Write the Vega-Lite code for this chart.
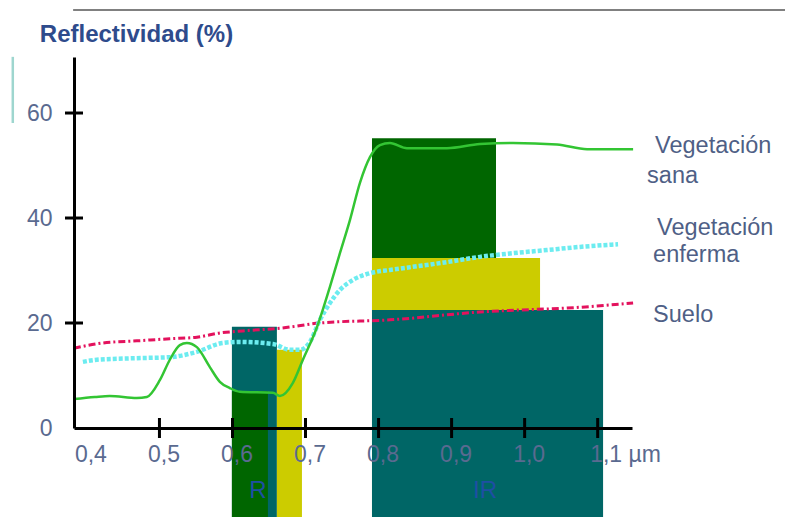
{
  "$schema": "https://vega.github.io/schema/vega-lite/v6.json",
  "autosize": {"type": "none"},
  "width": 558,
  "height": 371,
  "padding": {"left": 74, "top": 57, "right": 153, "bottom": 89},
  "background": "white",
  "config": {"view": {"stroke": null}, "font": "Liberation Sans"},
  "datasets": {
    "bandas": [
      {"banda": "R", "cubierta": "Suelo", "x": 0.5992, "x2": 0.6608, "y": 19.3, "y2": -17.5},
      {"banda": "R", "cubierta": "Sana", "x": 0.5992, "x2": 0.6485, "y": 7.0, "y2": -17.5},
      {"banda": "R", "cubierta": "Enferma", "x": 0.6608, "x2": 0.6951, "y": 14.9, "y2": -17.5},
      {"banda": "IR", "cubierta": "Sana", "x": 0.791, "x2": 0.9608, "y": 55.2, "y2": -17.5},
      {"banda": "IR", "cubierta": "Enferma", "x": 0.791, "x2": 1.0211, "y": 32.4, "y2": -17.5},
      {"banda": "IR", "cubierta": "Suelo", "x": 0.791, "x2": 1.1074, "y": 22.5, "y2": -17.5}
    ],
    "curvas": [
      {"serie": "Sana", "x": 0.3828, "y": 5.5},
      {"serie": "Sana", "x": 0.4115, "y": 5.9},
      {"serie": "Sana", "x": 0.4319, "y": 6.1},
      {"serie": "Sana", "x": 0.469, "y": 5.7},
      {"serie": "Sana", "x": 0.4827, "y": 5.9},
      {"serie": "Sana", "x": 0.5005, "y": 9.1},
      {"serie": "Sana", "x": 0.5142, "y": 13.0},
      {"serie": "Sana", "x": 0.5279, "y": 15.8},
      {"serie": "Sana", "x": 0.5375, "y": 16.2},
      {"serie": "Sana", "x": 0.5512, "y": 15.4},
      {"serie": "Sana", "x": 0.569, "y": 11.6},
      {"serie": "Sana", "x": 0.5827, "y": 8.8},
      {"serie": "Sana", "x": 0.5964, "y": 7.6},
      {"serie": "Sana", "x": 0.6101, "y": 6.9},
      {"serie": "Sana", "x": 0.6553, "y": 6.7},
      {"serie": "Sana", "x": 0.6649, "y": 6.1},
      {"serie": "Sana", "x": 0.6827, "y": 8.6},
      {"serie": "Sana", "x": 0.6964, "y": 13.0},
      {"serie": "Sana", "x": 0.7156, "y": 19.2},
      {"serie": "Sana", "x": 0.7334, "y": 26.9},
      {"serie": "Sana", "x": 0.7471, "y": 33.3},
      {"serie": "Sana", "x": 0.7608, "y": 39.6},
      {"serie": "Sana", "x": 0.7745, "y": 46.7},
      {"serie": "Sana", "x": 0.7882, "y": 51.6},
      {"serie": "Sana", "x": 0.8019, "y": 53.9},
      {"serie": "Sana", "x": 0.8156, "y": 54.3},
      {"serie": "Sana", "x": 0.8389, "y": 53.3},
      {"serie": "Sana", "x": 0.8937, "y": 53.3},
      {"serie": "Sana", "x": 0.9389, "y": 54.1},
      {"serie": "Sana", "x": 0.9841, "y": 54.3},
      {"serie": "Sana", "x": 1.0444, "y": 54.0},
      {"serie": "Sana", "x": 1.0855, "y": 53.1},
      {"serie": "Sana", "x": 1.1485, "y": 53.1},
      {"serie": "Enferma", "x": 0.3952, "y": 12.6},
      {"serie": "Enferma", "x": 0.4143, "y": 13.0},
      {"serie": "Enferma", "x": 0.469, "y": 13.3},
      {"serie": "Enferma", "x": 0.5142, "y": 13.5},
      {"serie": "Enferma", "x": 0.5512, "y": 14.5},
      {"serie": "Enferma", "x": 0.5868, "y": 16.2},
      {"serie": "Enferma", "x": 0.6101, "y": 16.4},
      {"serie": "Enferma", "x": 0.6553, "y": 16.0},
      {"serie": "Enferma", "x": 0.6786, "y": 14.9},
      {"serie": "Enferma", "x": 0.6923, "y": 14.9},
      {"serie": "Enferma", "x": 0.706, "y": 16.4},
      {"serie": "Enferma", "x": 0.7197, "y": 20.6},
      {"serie": "Enferma", "x": 0.7334, "y": 23.8},
      {"serie": "Enferma", "x": 0.7471, "y": 26.3},
      {"serie": "Enferma", "x": 0.7649, "y": 28.2},
      {"serie": "Enferma", "x": 0.7882, "y": 29.5},
      {"serie": "Enferma", "x": 0.8156, "y": 30.1},
      {"serie": "Enferma", "x": 0.8471, "y": 30.7},
      {"serie": "Enferma", "x": 0.8937, "y": 31.6},
      {"serie": "Enferma", "x": 0.9389, "y": 32.6},
      {"serie": "Enferma", "x": 0.9841, "y": 33.3},
      {"serie": "Enferma", "x": 1.0307, "y": 33.9},
      {"serie": "Enferma", "x": 1.0759, "y": 34.5},
      {"serie": "Enferma", "x": 1.1279, "y": 35.0},
      {"serie": "Suelo", "x": 0.3828, "y": 15.2},
      {"serie": "Suelo", "x": 0.4225, "y": 16.2},
      {"serie": "Suelo", "x": 0.469, "y": 16.6},
      {"serie": "Suelo", "x": 0.5142, "y": 17.0},
      {"serie": "Suelo", "x": 0.5512, "y": 17.3},
      {"serie": "Suelo", "x": 0.5827, "y": 18.1},
      {"serie": "Suelo", "x": 0.6142, "y": 18.5},
      {"serie": "Suelo", "x": 0.6649, "y": 19.0},
      {"serie": "Suelo", "x": 0.7197, "y": 20.0},
      {"serie": "Suelo", "x": 0.8156, "y": 20.6},
      {"serie": "Suelo", "x": 0.9389, "y": 22.1},
      {"serie": "Suelo", "x": 1.0759, "y": 23.0},
      {"serie": "Suelo", "x": 1.1485, "y": 23.8}
    ],
    "textos": [
      {"tipo": "titulo", "texto": "Reflectividad (%)", "x": 0.3362, "y": 73.5},
      {"tipo": "nota", "texto": "Vegetación", "x": 1.1786, "y": 52.4},
      {"tipo": "nota", "texto": "sana", "x": 1.1677, "y": 46.7},
      {"tipo": "nota", "texto": "Vegetación", "x": 1.1814, "y": 36.8},
      {"tipo": "nota", "texto": "enferma", "x": 1.1759, "y": 31.6},
      {"tipo": "nota", "texto": "Suelo", "x": 1.1759, "y": 20.2},
      {"tipo": "banda", "texto": "R", "x": 0.6348, "y": -13.4},
      {"tipo": "banda", "texto": "IR", "x": 0.9458, "y": -13.4}
    ],
    "hlinea": [{"x": 0.3818, "x2": 1.357, "y": 79.6}],
    "vlinea": [{"x": 0.2992, "y": 70.7, "y2": 58.1}],
    "marcasx": [
      {"pos": 0.5}, {"pos": 0.6}, {"pos": 0.7}, {"pos": 0.8}, {"pos": 0.9}, {"pos": 1.0}, {"pos": 1.1}
    ],
    "marcasy": [
      {"pos": 20}, {"pos": 40}, {"pos": 60}
    ]
  },
  "layer": [
    {
      "data": {"name": "hlinea"},
      "mark": {"type": "rule", "color": "#808080", "strokeWidth": 2},
      "encoding": {
        "x": {"field": "x", "type": "quantitative"},
        "x2": {"field": "x2"},
        "y": {"field": "y", "type": "quantitative"}
      }
    },
    {
      "data": {"name": "vlinea"},
      "mark": {"type": "rule", "color": "#9ed6cf", "strokeWidth": 2.5},
      "encoding": {
        "x": {"field": "x", "type": "quantitative"},
        "y": {"field": "y", "type": "quantitative"},
        "y2": {"field": "y2"}
      }
    },
    {
      "data": {"name": "bandas"},
      "mark": {"type": "rect", "clip": false},
      "encoding": {
        "x": {"field": "x", "type": "quantitative",
          "scale": {"domain": [0.383, 1.147], "nice": false, "zero": false},
          "axis": {
            "values": [0.4, 0.5, 0.6, 0.7, 0.8, 0.9, 1.0, 1.1],
            "title": null, "grid": false, "zindex": 1, "ticks": false,
            "domainColor": "#000000", "domainWidth": 3,
            "labelPadding": 15, "labelFontSize": 23, "labelColor": "#5a6a90",
            "labelFont": "Liberation Sans", "labelFlush": false, "labelOverlap": false,
            "labelAlign": {"condition": {"test": "datum.value > 1.05", "value": "left"}, "value": "center"},
            "labelOffset": {"condition": {"test": "datum.value > 1.05", "value": -8}, "value": 4},
            "labelExpr": "abs(datum.value - 1.1) < 0.01 ? '1,1 µm' : replace(format(datum.value, '.1f'), '.', ',')"
          }},
        "x2": {"field": "x2"},
        "y": {"field": "y", "type": "quantitative",
          "scale": {"domain": [0, 70.67], "nice": false, "zero": false},
          "axis": {
            "values": [0, 20, 40, 60],
            "title": null, "grid": false, "zindex": 1, "ticks": false,
            "domainColor": "#000000", "domainWidth": 3,
            "labelPadding": 22, "labelFontSize": 23, "labelColor": "#5a6a90",
            "labelFont": "Liberation Sans", "labelFlush": false, "labelOverlap": false
          }},
        "y2": {"field": "y2"},
        "color": {"field": "cubierta", "type": "nominal", "legend": null,
          "scale": {"domain": ["Sana", "Enferma", "Suelo"], "range": ["#006600", "#cccc00", "#006666"]}}
      }
    },
    {
      "data": {"name": "curvas"},
      "transform": [{"filter": "datum.serie == 'Suelo'"}],
      "mark": {"type": "line", "color": "#e3125d", "strokeWidth": 3, "strokeDash": [7, 3, 2, 3], "interpolate": "monotone", "clip": false},
      "encoding": {
        "x": {"field": "x", "type": "quantitative"},
        "y": {"field": "y", "type": "quantitative"}
      }
    },
    {
      "data": {"name": "curvas"},
      "transform": [{"filter": "datum.serie == 'Enferma'"}],
      "mark": {"type": "line", "color": "#6cecf0", "strokeWidth": 4.5, "strokeDash": [4, 2], "interpolate": "monotone", "clip": false},
      "encoding": {
        "x": {"field": "x", "type": "quantitative"},
        "y": {"field": "y", "type": "quantitative"}
      }
    },
    {
      "data": {"name": "curvas"},
      "transform": [{"filter": "datum.serie == 'Sana'"}],
      "mark": {"type": "line", "color": "#33c533", "strokeWidth": 2.5, "interpolate": "monotone", "clip": false},
      "encoding": {
        "x": {"field": "x", "type": "quantitative"},
        "y": {"field": "y", "type": "quantitative"}
      }
    },
    {
      "data": {"name": "textos"},
      "transform": [{"filter": "datum.tipo == 'titulo'"}],
      "mark": {"type": "text", "align": "left", "baseline": "alphabetic", "fontSize": 24, "fontWeight": "bold", "color": "#2e4b8c", "font": "Liberation Sans"},
      "encoding": {
        "x": {"field": "x", "type": "quantitative"},
        "y": {"field": "y", "type": "quantitative"},
        "text": {"field": "texto"}
      }
    },
    {
      "data": {"name": "textos"},
      "transform": [{"filter": "datum.tipo == 'nota'"}],
      "mark": {"type": "text", "align": "left", "baseline": "alphabetic", "fontSize": 23.5, "color": "#4f5f86", "font": "Liberation Sans"},
      "encoding": {
        "x": {"field": "x", "type": "quantitative"},
        "y": {"field": "y", "type": "quantitative"},
        "text": {"field": "texto"}
      }
    },
    {
      "data": {"name": "textos"},
      "transform": [{"filter": "datum.tipo == 'banda'"}],
      "mark": {"type": "text", "align": "center", "baseline": "alphabetic", "fontSize": 24, "color": "#1f4fa3", "font": "Liberation Sans"},
      "encoding": {
        "x": {"field": "x", "type": "quantitative"},
        "y": {"field": "y", "type": "quantitative"},
        "text": {"field": "texto"}
      }
    },
    {
      "data": {"name": "marcasx"},
      "mark": {"type": "tick", "orient": "vertical", "color": "#000000", "thickness": 3, "size": 20, "opacity": 1},
      "encoding": {
        "x": {"field": "pos", "type": "quantitative"},
        "y": {"datum": 0, "type": "quantitative"}
      }
    },
    {
      "data": {"name": "marcasy"},
      "mark": {"type": "tick", "orient": "horizontal", "color": "#000000", "thickness": 3, "size": 18, "opacity": 1},
      "encoding": {
        "y": {"field": "pos", "type": "quantitative"},
        "x": {"datum": 0.383, "type": "quantitative"}
      }
    }
  ]
}
